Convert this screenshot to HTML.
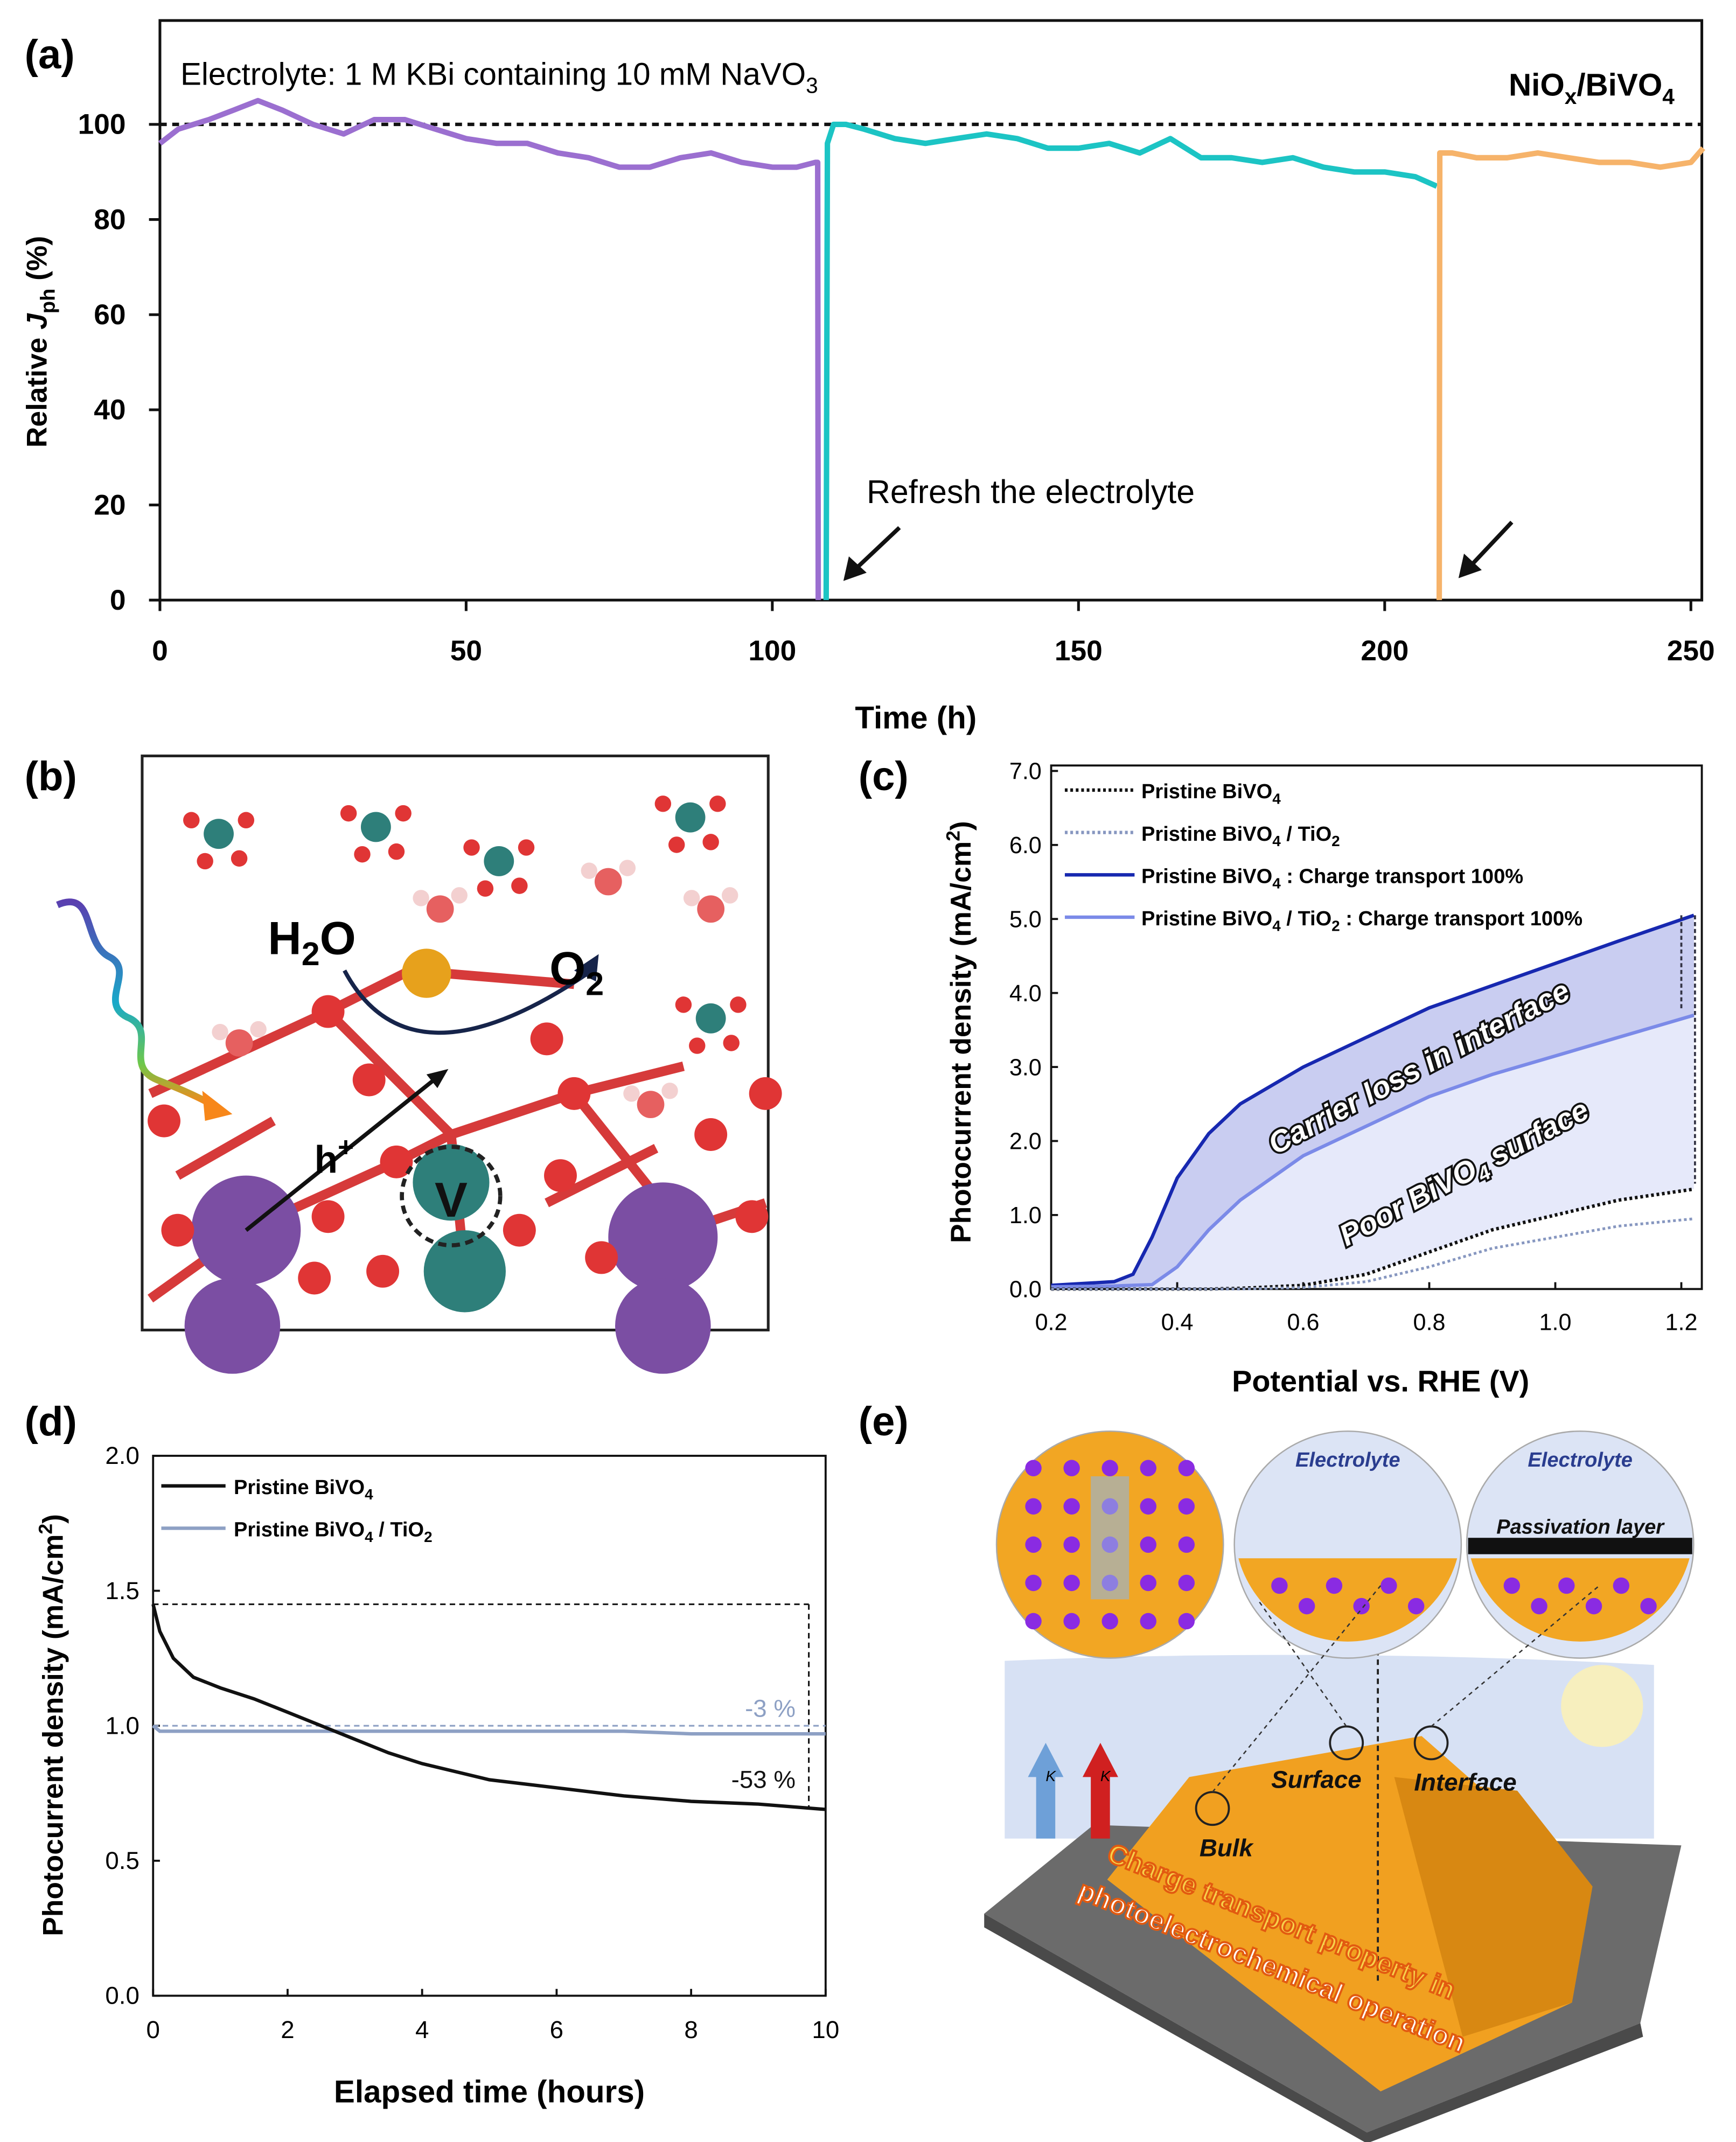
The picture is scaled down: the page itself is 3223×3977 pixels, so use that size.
<!DOCTYPE html>
<html><head><meta charset="utf-8">
<style>
html,body{margin:0;padding:0;background:#fff;}
svg{display:block;}
text{font-family:"Liberation Sans",sans-serif;}
</style></head>
<body>
<svg id="fig" xmlns="http://www.w3.org/2000/svg" width="3223" height="3977" viewBox="0 0 1270 1567" preserveAspectRatio="none">
<rect width="1270" height="1567" fill="#fff"/>
<g id="pa"></g>
<g id="pb"></g>
<g id="pc"></g>
<g id="pd"></g>
<g id="pe"></g>
</svg>
<script>
// ---- Panel (a) data ----
const aPurpleT=[0,3,8,12,16,20,25,30,35,40,45,50,55,60,65,70,75,80,85,90,95,100,104,107,107.4,107.5];
const aPurpleV=[96,99,101,103,105,103,100,98,101,101,99,97,96,96,94,93,91,91,93,94,92,91,91,92,92,0];
const aCyanT=[108.8,109,110,112,115,120,125,130,135,140,145,150,155,160,165,170,175,180,185,190,195,200,205,208.5];
const aCyanV=[0,96,100,100,99,97,96,97,98,97,95,95,96,94,97,93,93,92,93,91,90,90,89,87];
const aOrangeT=[208.9,209,211,215,220,225,230,235,240,245,250,252];
const aOrangeV=[0,94,94,93,93,94,93,92,92,91,92,95];
const aXTicks=[0,50,100,150,200,250];
const aYTicks=[0,20,40,60,80,100];
// ---- Panel (c) data ----
const cV=[0.2,0.3,0.33,0.36,0.4,0.45,0.5,0.6,0.7,0.8,0.9,1.0,1.1,1.22];
const cDark=[0.05,0.1,0.2,0.7,1.5,2.1,2.5,3.0,3.4,3.8,4.1,4.4,4.7,5.05];
const cLight=[0.03,0.04,0.05,0.06,0.3,0.8,1.2,1.8,2.2,2.6,2.9,3.15,3.4,3.7];
const cBlack=[0,0,0,0,0,0,0.01,0.05,0.2,0.5,0.8,1.0,1.2,1.35];
const cGray=[0,0,0,0,0,0,0,0.02,0.1,0.3,0.55,0.7,0.85,0.95];
const cXTicks=[0.2,0.4,0.6,0.8,1.0,1.2];
const cYTicks=[0,1,2,3,4,5,6,7];
// ---- Panel (d) data ----
const dT=[0,0.1,0.3,0.6,1,1.5,2,2.5,3,3.5,4,4.5,5,6,7,8,9,10];
const dBlack=[1.45,1.35,1.25,1.18,1.14,1.1,1.05,1.0,0.95,0.9,0.86,0.83,0.8,0.77,0.74,0.72,0.71,0.69];
const dGray=[1.0,0.98,0.98,0.98,0.98,0.98,0.98,0.98,0.98,0.98,0.98,0.98,0.98,0.98,0.98,0.97,0.97,0.97];
const dXTicks=[0,2,4,6,8,10];
const dYTicks=[0,0.5,1.0,1.5,2.0];

const NS="http://www.w3.org/2000/svg";
function mk(parent,tag,attrs,txt){const e=document.createElementNS(NS,tag);for(const k in attrs)e.setAttribute(k,attrs[k]);if(txt!==undefined)e.textContent=txt;parent.appendChild(e);return e;}
function lin(d0,d1,r0,r1){return v=>r0+(v-d0)/(d1-d0)*(r1-r0);}
function pathOf(xs,ys,fx,fy){let s="";for(let i=0;i<xs.length;i++){s+=(i?"L":"M")+fx(xs[i]).toFixed(1)+","+fy(ys[i]).toFixed(1);}return s;}

// ===== Panel A =====
(function(){
const g=document.getElementById('pa');
const fx=lin(0,250,117,1237), fy=lin(0,100,439,91);
let t=mk(g,'text',{x:18,y:50,'font-size':30,'font-weight':'bold'},'(a)');

let r=mk(g,'rect',{x:117,y:15,width:1128,height:424,fill:'none',stroke:'#111','stroke-width':2});

aXTicks.forEach(v=>{const x=fx(v);let l=mk(g,'line',{x1:x,y1:439,x2:x,y2:447,stroke:'#111','stroke-width':2});

let tt=mk(g,'text',{x:x,y:483,'font-size':21,'font-weight':'bold','text-anchor':'middle'},String(v));
});
aYTicks.forEach(v=>{const y=fy(v);let l=mk(g,'line',{x1:109,y1:y,x2:117,y2:y,stroke:'#111','stroke-width':2});

let tt=mk(g,'text',{x:92,y:y+7,'font-size':21,'font-weight':'bold','text-anchor':'end'},String(v));
});
let ref=mk(g,'line',{x1:117,y1:fy(100),x2:1245,y2:fy(100),stroke:'#111','stroke-width':2.5,'stroke-dasharray':'5,4'});

[[aPurpleT,aPurpleV,'#9b6fd0','purple-series'],[aCyanT,aCyanV,'#1cc4c4','cyan-series'],[aOrangeT,aOrangeV,'#f6b36a','orange-series']].forEach(s=>{
let p=mk(g,'path',{d:pathOf(s[0],s[1],fx,fy),fill:'none',stroke:s[2],'stroke-width':4,'stroke-linejoin':'round'});
});
let a1=mk(g,'text',{x:132,y:62,'font-size':23},'Electrolyte: 1 M KBi containing 10 mM NaVO');mk(a1,'tspan',{dy:6,'font-size':16},'3');

let a2=mk(g,'text',{x:1225,y:70,'font-size':23,'font-weight':'bold','text-anchor':'end'},'NiO');mk(a2,'tspan',{dy:6,'font-size':16},'x');mk(a2,'tspan',{dy:-6},'/BiVO');mk(a2,'tspan',{dy:6,'font-size':16},'4');

let a3=mk(g,'text',{x:634,y:368,'font-size':24},'Refresh the electrolyte');

[[658,386,617,425],[1106,382,1067,423]].forEach(c=>{let l=mk(g,'line',{x1:c[0],y1:c[1],x2:c[2]+6,y2:c[3]-6,stroke:'#111','stroke-width':3});

mk(g,'polygon',{points:`${c[2]},${c[3]} ${c[2]+4},${c[3]-18} ${c[2]+17},${c[3]-6}`,fill:'#111'});});
let yl=mk(g,'text',{x:0,y:0,'font-size':21,'font-weight':'bold','text-anchor':'middle',transform:'translate(34,250) rotate(-90)'},'Relative ');
mk(yl,'tspan',{'font-style':'italic'},'J');mk(yl,'tspan',{dy:6,'font-size':15},'ph');mk(yl,'tspan',{dy:-6},' (%)');

let xl=mk(g,'text',{x:670,y:533,'font-size':23,'font-weight':'bold','text-anchor':'middle'},'Time (h)');

})();

// ===== Panel B (illustration) =====
(function(){
const g=document.getElementById('pb');
let t=mk(g,'text',{x:18,y:578,'font-size':30,'font-weight':'bold'},'(b)');

let r=mk(g,'rect',{x:104,y:553,width:458,height:420,fill:'#fff',stroke:'#222','stroke-width':2});

const bonds=[[110,800,240,740],[240,740,330,830],[180,900,290,850],[290,850,330,830],[330,830,420,800],[420,800,500,900],[330,830,340,930],[180,900,110,950],[500,900,560,880],[240,740,300,710],[300,710,420,720],[420,800,500,780],[130,860,200,820],[400,880,480,840]];
bonds.forEach(b=>{let l=mk(g,'line',{x1:b[0],y1:b[1],x2:b[2],y2:b[3],stroke:'#d63a3a','stroke-width':7});});
[[180,900,40,'#7b4ea3'],[485,905,40,'#7b4ea3'],[170,970,35,'#7b4ea3'],[485,970,35,'#7b4ea3'],[340,930,30,'#2e7f7a'],[330,865,28,'#2e7f7a'],[312,712,18,'#e7a11c']].forEach(a=>{
let c=mk(g,'circle',{cx:a[0],cy:a[1],r:a[2],fill:a[3]});});
[[240,740],[270,790],[400,760],[420,800],[290,850],[410,860],[380,900],[240,890],[120,820],[520,830],[550,890],[440,920],[230,935],[280,930],[560,800],[130,900]].forEach(p=>{
let c=mk(g,'circle',{cx:p[0],cy:p[1],r:12,fill:'#e03535'});});
[[160,610],[275,605],[365,630],[505,598],[520,745]].forEach(p=>{mk(g,'circle',{cx:p[0],cy:p[1],r:11,fill:'#2e7f7a'});
[[-20,-10],[20,-10],[-10,20],[15,18]].forEach(o=>mk(g,'circle',{cx:p[0]+o[0],cy:p[1]+o[1],r:6,fill:'#e03535'}));});
[[445,645],[520,665],[175,763],[322,665],[476,808]].forEach(p=>{mk(g,'circle',{cx:p[0],cy:p[1],r:10,fill:'#e66060'});mk(g,'circle',{cx:p[0]-14,cy:p[1]-8,r:6,fill:'#f3d0d0'});mk(g,'circle',{cx:p[0]+14,cy:p[1]-10,r:6,fill:'#f3d0d0'});});
mk(g,'circle',{cx:330,cy:875,r:36,fill:'none',stroke:'#222','stroke-width':3,'stroke-dasharray':'6,4'});
let v=mk(g,'text',{x:330,y:890,'font-size':36,'font-weight':'bold','text-anchor':'middle',fill:'#111'},'V');
let p=mk(g,'path',{d:'M252,710 Q300,800 430,712',fill:'none',stroke:'#16244a','stroke-width':3});
mk(g,'polygon',{points:'438,698 420,710 436,718',fill:'#16244a'});
let h=mk(g,'text',{x:196,y:698,'font-size':34,'font-weight':'bold'},'H');mk(h,'tspan',{dy:8,'font-size':24},'2');mk(h,'tspan',{dy:-8},'O');
let o=mk(g,'text',{x:402,y:720,'font-size':34,'font-weight':'bold'},'O');mk(o,'tspan',{dy:8,'font-size':24},'2');
let hl=mk(g,'line',{x1:180,y1:900,x2:320,y2:788,stroke:'#111','stroke-width':3});
mk(g,'polygon',{points:'328,782 312,786 320,796',fill:'#111'});
let hp=mk(g,'text',{x:230,y:858,'font-size':28,'font-weight':'bold'},'h');mk(hp,'tspan',{dy:-12,'font-size':20},'+');
const grad=mk(g,'linearGradient',{id:'wv',x1:0,y1:0,x2:0,y2:1});mk(grad,'stop',{offset:0,'stop-color':'#5a3fb0'});mk(grad,'stop',{offset:0.5,'stop-color':'#19a9c9'});mk(grad,'stop',{offset:0.8,'stop-color':'#6ec84a'});mk(grad,'stop',{offset:1,'stop-color':'#f7871a'});
let w=mk(g,'path',{d:'M42,662 C70,650 60,690 80,700 C100,710 70,735 95,745 C115,755 90,780 115,790 C130,796 140,800 155,808',fill:'none',stroke:'url(#wv)','stroke-width':5});
mk(g,'polygon',{points:'170,815 148,798 150,820',fill:'#f7871a'});
})();

// ===== Panel C =====
(function(){
const g=document.getElementById('pc');
const fx=lin(0.2,1.2,769,1230), fy=lin(0,7,943,564);
let t=mk(g,'text',{x:628,y:578,'font-size':30,'font-weight':'bold'},'(c)');
let top=pathOf(cV,cDark,fx,fy), bot="";for(let i=cV.length-1;i>=0;i--)bot+="L"+fx(cV[i]).toFixed(1)+","+fy(cLight[i]).toFixed(1);
let s1=mk(g,'path',{d:top+bot+'Z',fill:'#c3c8ef',opacity:0.9});
let top2=pathOf(cV,cLight,fx,fy), bot2="";for(let i=cV.length-1;i>=0;i--)bot2+="L"+fx(cV[i]).toFixed(1)+","+fy(cBlack[i]).toFixed(1);
let s2=mk(g,'path',{d:top2+bot2+'Z',fill:'#e6e9fa'});
let r=mk(g,'rect',{x:769,y:560,width:476,height:383,fill:'none',stroke:'#111','stroke-width':1.5});
cXTicks.forEach(v=>{const x=fx(v);let l=mk(g,'line',{x1:x,y1:943,x2:x,y2:938,stroke:'#111','stroke-width':1.5});
let tt=mk(g,'text',{x:x,y:973,'font-size':17,'text-anchor':'middle'},v.toFixed(1));});
cYTicks.forEach(v=>{const y=fy(v);let l=mk(g,'line',{x1:769,y1:y,x2:774,y2:y,stroke:'#111','stroke-width':1.5});
let tt=mk(g,'text',{x:762,y:y+6,'font-size':17,'text-anchor':'end'},v.toFixed(1));});
[[cDark,'#1728b0',2.5,null,'dark-blue-series'],[cLight,'#7b8ae8',2.5,null,'light-blue-series'],[cBlack,'#111',2.5,'2,2','pristine-series'],[cGray,'#8797c0',2,'2,2','tio2-series']].forEach(s=>{
const at={d:pathOf(cV,s[0],fx,fy),fill:'none',stroke:s[1],'stroke-width':s[2]};if(s[3])at['stroke-dasharray']=s[3];
let p=mk(g,'path',at);});
[[1230,cDark[13],cLight[13]],[1240,cDark[13],cBlack[13]]].forEach(a=>{let l=mk(g,'line',{x1:a[0],y1:fy(a[1]),x2:a[0],y2:fy(a[2])-4,stroke:'#334','stroke-width':1.5,'stroke-dasharray':'3,2'});});
const leg=[['#111','2,2','Pristine BiVO','4',''],['#8797c0','2,2','Pristine BiVO','4',' / TiO','2'],['#1728b0',null,'Pristine BiVO','4',' : Charge transport 100%'],['#7b8ae8',null,'Pristine BiVO','4',' / TiO','2',' : Charge transport 100%']];
leg.forEach((L,i)=>{const y=578+i*31;const at={x1:779,y1:y,x2:830,y2:y,stroke:L[0],'stroke-width':2.5};if(L[1])at['stroke-dasharray']=L[1];
let l=mk(g,'line',at);
let tt=mk(g,'text',{x:835,y:y+6,'font-size':15,'font-weight':'bold'},L[2]);mk(tt,'tspan',{dy:4,'font-size':11},L[3]);mk(tt,'tspan',{dy:-4},L[4]);
if(L[5]){mk(tt,'tspan',{dy:4,'font-size':11},L[5]);mk(tt,'tspan',{dy:-4},L[6]);}
});
let c1=mk(g,'text',{x:0,y:0,'font-size':22,'font-weight':'bold','font-style':'italic',fill:'#fff',stroke:'#111','stroke-width':3,'paint-order':'stroke',transform:'translate(933,845) rotate(-28)'},'Carrier loss in interface');
let c2=mk(g,'text',{x:0,y:0,'font-size':22,'font-weight':'bold','font-style':'italic',fill:'#fff',stroke:'#111','stroke-width':3,'paint-order':'stroke',transform:'translate(985,912) rotate(-28)'},'Poor BiVO');mk(c2,'tspan',{dy:5,'font-size':15},'4');mk(c2,'tspan',{dy:-5},' surface');

let yl=mk(g,'text',{x:0,y:0,'font-size':21,'font-weight':'bold','text-anchor':'middle',transform:'translate(710,755) rotate(-90)'},'Photocurrent density (mA/cm');mk(yl,'tspan',{dy:-8,'font-size':14},'2');mk(yl,'tspan',{dy:8},')');

let xl=mk(g,'text',{x:1010,y:1018,'font-size':22,'font-weight':'bold','text-anchor':'middle'},'Potential vs. RHE (V)');
})();

// ===== Panel D =====
(function(){
const g=document.getElementById('pd');
const fx=lin(0,10,112,604), fy=lin(0,2,1460,1065);
let t=mk(g,'text',{x:18,y:1050,'font-size':30,'font-weight':'bold'},'(d)');
let r=mk(g,'rect',{x:112,y:1065,width:492,height:395,fill:'none',stroke:'#111','stroke-width':1.5});
dXTicks.forEach(v=>{const x=fx(v);let l=mk(g,'line',{x1:x,y1:1460,x2:x,y2:1455,stroke:'#111','stroke-width':1.5});
let tt=mk(g,'text',{x:x,y:1491,'font-size':18,'text-anchor':'middle'},String(v));});
dYTicks.forEach(v=>{const y=fy(v);let l=mk(g,'line',{x1:112,y1:y,x2:117,y2:y,stroke:'#111','stroke-width':1.5});
let tt=mk(g,'text',{x:102,y:y+6,'font-size':18,'text-anchor':'end'},v.toFixed(1));});
let h1=mk(g,'line',{x1:112,y1:fy(1.45),x2:fx(9.75),y2:fy(1.45),stroke:'#111','stroke-width':1.2,'stroke-dasharray':'4,3'});
let v1=mk(g,'line',{x1:fx(9.75),y1:fy(1.45),x2:fx(9.75),y2:fy(0.7),stroke:'#111','stroke-width':1.2,'stroke-dasharray':'4,3'});
let h2=mk(g,'line',{x1:112,y1:fy(1.0),x2:604,y2:fy(1.0),stroke:'#8da0c4','stroke-width':1.2,'stroke-dasharray':'4,3'});
let p1=mk(g,'path',{d:pathOf(dT,dGray,fx,fy),fill:'none',stroke:'#8da0c4','stroke-width':2.5});
let p2=mk(g,'path',{d:pathOf(dT,dBlack,fx,fy),fill:'none',stroke:'#111','stroke-width':2.5});
let a=mk(g,'text',{x:582,y:1256,'font-size':18,'text-anchor':'end',fill:'#8da0c4'},'-3 %');
let b=mk(g,'text',{x:582,y:1308,'font-size':18,'text-anchor':'end',fill:'#111'},'-53 %');
[['#111','Pristine BiVO','4',''],['#8da0c4','Pristine BiVO','4',' / TiO','2']].forEach((L,i)=>{const y=1087+i*31;
let l=mk(g,'line',{x1:118,y1:y,x2:165,y2:y,stroke:L[0],'stroke-width':2.5});
let tt=mk(g,'text',{x:171,y:y+6,'font-size':15,'font-weight':'bold'},L[1]);mk(tt,'tspan',{dy:4,'font-size':11},L[2]);mk(tt,'tspan',{dy:-4},L[3]);if(L[4]){mk(tt,'tspan',{dy:4,'font-size':11},L[4]);}
});
let yl=mk(g,'text',{x:0,y:0,'font-size':21,'font-weight':'bold','text-anchor':'middle',transform:'translate(46,1262) rotate(-90)'},'Photocurrent density (mA/cm');mk(yl,'tspan',{dy:-8,'font-size':14},'2');mk(yl,'tspan',{dy:8},')');

let xl=mk(g,'text',{x:358,y:1538,'font-size':23,'font-weight':'bold','text-anchor':'middle'},'Elapsed time (hours)');
})();

// ===== Panel E (illustration) =====
(function(){
const g=document.getElementById('pe');
let t=mk(g,'text',{x:628,y:1050,'font-size':30,'font-weight':'bold'},'(e)');
let bg=mk(g,'path',{d:'M735,1215 Q970,1205 1210,1218 L1210,1345 L735,1345 Z',fill:'#d7e1f4'});
let sun=mk(g,'circle',{cx:1172,cy:1248,r:30,fill:'#fff3b0',opacity:0.8});
let base=mk(g,'path',{d:'M720,1400 L800,1335 L1230,1350 L1200,1480 L1000,1560 Z',fill:'#6b6b6b'});
mk(g,'path',{d:'M720,1400 L1000,1560 L1200,1480 L1202,1490 L1000,1568 L720,1410 Z',fill:'#4a4a4a'});
let film=mk(g,'path',{d:'M810,1375 L870,1300 L1040,1270 L1165,1380 L1150,1465 L1010,1530 Z',fill:'#f1a020'});
mk(g,'path',{d:'M1020,1300 L1110,1310 L1165,1380 L1150,1465 L1070,1490 Z',fill:'#d88812'});
mk(g,'line',{x1:1008,y1:1130,x2:1008,y2:1450,stroke:'#222','stroke-width':1.5,'stroke-dasharray':'4,3'});
[[887,1323],[985,1275],[1047,1275]].forEach(c=>{mk(g,'circle',{cx:c[0],cy:c[1],r:12,fill:'none',stroke:'#222','stroke-width':1.5});});
[['Surface',963,1308],['Interface',1072,1310],['Bulk',897,1358]].forEach(L=>{let tt=mk(g,'text',{x:L[1],y:L[2],'font-size':18,'font-weight':'bold','font-style':'italic','text-anchor':'middle',fill:'#111'},L[0]);});
[[812,1130],[986,1130],[1156,1130]].forEach((c,i)=>{let cc=mk(g,'circle',{cx:c[0],cy:c[1],r:83,fill:i==0?'#f2a623':'#dce4f5',stroke:'#aaa','stroke-width':1});
if(i>0){mk(g,'path',{d:`M${c[0]-80},${c[1]+10} L${c[0]+80},${c[1]+10} A83,83 0 0 1 ${c[0]-80},${c[1]+10} Z`,fill:'#f2a623'});}
if(i==2)mk(g,'rect',{x:c[0]-82,y:c[1]-5,width:164,height:12,fill:'#111'});
if(i==0){for(let a=0;a<5;a++)for(let b=0;b<5;b++)mk(g,'circle',{cx:c[0]-56+a*28,cy:c[1]-56+b*28,r:6,fill:'#8a2be2'});
mk(g,'rect',{x:c[0]-14,y:c[1]-50,width:28,height:90,fill:'#8fb5e0',opacity:0.6});}
else for(let k=0;k<6;k++)mk(g,'circle',{cx:c[0]-50+k*20,cy:c[1]+30+(k%2)*15,r:6,fill:'#8a2be2'});});
let e1=mk(g,'text',{x:986,y:1073,'font-size':15,'font-weight':'bold','font-style':'italic','text-anchor':'middle',fill:'#2a3d8f'},'Electrolyte');
let e2=mk(g,'text',{x:1156,y:1073,'font-size':15,'font-weight':'bold','font-style':'italic','text-anchor':'middle',fill:'#2a3d8f'},'Electrolyte');
let pl=mk(g,'text',{x:1156,y:1122,'font-size':15,'font-weight':'bold','font-style':'italic','text-anchor':'middle',fill:'#111'},'Passivation layer');
[[887,1311,1010,1160],[1047,1263,1170,1160],[985,1263,920,1170]].forEach(l=>{mk(g,'line',{x1:l[0],y1:l[1],x2:l[2],y2:l[3],stroke:'#333','stroke-width':1,'stroke-dasharray':'3,3'});});
mk(g,'polygon',{points:'752,1300 765,1275 778,1300 772,1300 772,1345 758,1345 758,1300',fill:'#6ea0d8'});
mk(g,'polygon',{points:'792,1300 805,1275 818,1300 812,1300 812,1345 798,1345 798,1300',fill:'#d02020'});
let kt=mk(g,'text',{x:765,y:1303,'font-size':11,'font-style':'italic'},'K');
let kl=mk(g,'text',{x:805,y:1303,'font-size':11,'font-style':'italic'},'K');
let ct=mk(g,'text',{x:0,y:0,'font-size':20,'font-weight':'bold','text-anchor':'middle',fill:'#f7d14a',stroke:'#e25a10','stroke-width':1.5,transform:'translate(935,1412) rotate(22)'},'Charge transport property in');
let ct2=mk(g,'text',{x:0,y:0,'font-size':20,'font-weight':'bold','text-anchor':'middle',fill:'#fff',stroke:'#e25a10','stroke-width':1.5,transform:'translate(928,1445) rotate(22)'},'photoelectrochemical operation');
})();
</script>
</body></html>
